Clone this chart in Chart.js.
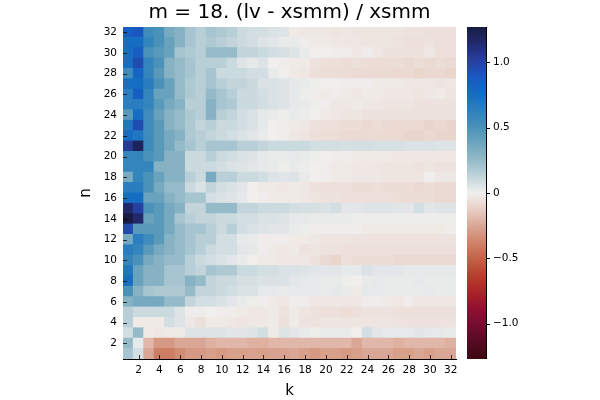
<!DOCTYPE html>
<html><head><meta charset="utf-8">
<script src="https://cdn.jsdelivr.net/npm/chart.js@4/dist/chart.umd.min.js"></script>
<style>html,body{margin:0;padding:0;background:#fff}#wrap{width:600px;height:400px}</style>
</head><body><div id="wrap"><canvas id="c" width="600" height="400"></canvas></div>
<script>
// ---- data ----
const kLabels = [1,2,3,4,5,6,7,8,9,10,11,12,13,14,15,16,17,18,19,20,21,22,23,24,25,26,27,28,29,30,31,32];
const nValues = [1,2,3,4,5,6,7,8,9,10,11,12,13,14,15,16,17,18,19,20,21,22,23,24,25,26,27,28,29,30,31,32];
const row01 = [0.2,0.08,-0.25,-0.4,-0.4,-0.35,-0.3,-0.3,-0.28,-0.3,-0.28,-0.28,-0.27,-0.28,-0.27,-0.27,-0.25,-0.28,-0.3,-0.28,-0.28,-0.3,-0.28,-0.25,-0.25,-0.25,-0.28,-0.28,-0.25,-0.28,-0.25,-0.25];
const row02 = [0.25,0.03,-0.2,-0.3,-0.3,-0.25,-0.25,-0.25,-0.22,-0.2,-0.2,-0.2,-0.22,-0.22,-0.2,-0.2,-0.2,-0.2,-0.2,-0.2,-0.2,-0.2,-0.25,-0.2,-0.2,-0.2,-0.22,-0.2,-0.2,-0.2,-0.2,-0.22];
const row03 = [0.08,0.25,-0.02,-0.03,-0.02,-0.02,0.05,0.05,0.05,0.05,0.04,0.04,0.05,0.08,-0.02,0.05,0.04,0.02,0.01,0.02,0.02,0.02,0.0,0.08,0.04,0.03,0.03,0.03,0.04,0.03,0.03,0.02];
const row04 = [0.15,-0.02,-0.02,-0.02,0.08,0.05,-0.03,-0.06,-0.02,-0.02,-0.03,-0.04,-0.03,-0.03,-0.02,-0.06,-0.02,-0.05,-0.05,-0.04,-0.04,-0.04,-0.04,-0.04,-0.04,-0.04,-0.05,-0.05,-0.05,-0.05,-0.05,-0.05];
const row05 = [0.15,0.1,0.1,0.1,0.1,0.05,-0.01,-0.01,0.0,-0.01,-0.01,-0.02,-0.03,-0.03,-0.02,-0.05,-0.02,-0.04,-0.05,-0.06,-0.06,-0.07,-0.06,-0.05,-0.05,-0.05,-0.06,-0.06,-0.06,-0.06,-0.06,-0.06];
const row06 = [0.3,0.35,0.35,0.35,0.25,0.25,0.12,0.08,0.08,0.06,0.04,0.02,0.01,-0.01,-0.02,-0.03,-0.01,-0.01,-0.03,-0.03,-0.03,-0.03,-0.03,-0.01,-0.01,-0.02,-0.03,-0.01,-0.03,-0.03,-0.03,-0.03];
const row07 = [0.5,0.3,0.2,0.18,0.18,0.18,0.25,0.12,0.12,0.1,0.08,0.06,0.06,0.03,0.03,0.02,0.03,0.03,0.03,0.02,0.03,0.02,-0.02,0.03,0.03,0.02,0.02,0.02,0.02,0.03,0.02,0.02];
const row08 = [0.75,0.4,0.3,0.3,0.2,0.2,0.3,0.25,0.12,0.1,0.1,0.07,0.07,0.06,0.06,0.06,0.04,0.03,0.03,0.02,0.02,0.01,0.0,0.02,0.03,0.02,0.02,0.02,0.03,0.02,0.02,0.02];
const row09 = [0.7,0.4,0.3,0.3,0.2,0.2,0.15,0.12,0.2,0.18,0.18,0.1,0.1,0.08,0.08,0.06,0.06,0.05,0.04,0.04,0.04,0.03,0.03,0.06,0.04,0.04,0.04,0.03,0.03,0.03,0.03,0.03];
const row10 = [0.6,0.5,0.35,0.3,0.25,0.25,0.15,0.1,0.08,0.06,0.04,0.02,0.0,-0.02,-0.02,-0.03,-0.03,-0.03,-0.05,-0.08,-0.1,-0.06,-0.07,-0.07,-0.07,-0.07,-0.08,-0.08,-0.08,-0.08,-0.08,-0.08];
const row11 = [0.65,0.6,0.45,0.35,0.3,0.25,0.2,0.15,0.1,0.08,0.08,0.04,0.03,-0.01,-0.02,-0.03,-0.02,-0.05,-0.04,-0.05,-0.05,-0.06,-0.06,-0.06,-0.06,-0.06,-0.06,-0.06,-0.06,-0.06,-0.06,-0.06];
const row12 = [0.35,0.65,0.55,0.45,0.3,0.25,0.2,0.15,0.15,0.08,0.08,0.03,0.02,-0.01,-0.01,-0.01,-0.02,-0.02,-0.03,-0.04,-0.04,-0.04,-0.05,-0.05,-0.05,-0.05,-0.05,-0.05,-0.05,-0.05,-0.05,-0.05];
const row13 = [0.95,0.45,0.45,0.45,0.35,0.25,0.2,0.2,0.15,0.1,0.15,0.08,0.06,0.05,0.04,0.04,0.02,0.01,-0.01,-0.01,-0.01,-0.01,-0.01,-0.02,-0.02,-0.02,-0.02,-0.02,-0.02,-0.02,-0.02,-0.01];
const row14 = [1.27,1.15,0.4,0.45,0.35,0.2,0.15,0.12,0.12,0.1,0.1,0.08,0.08,0.06,0.06,0.05,0.03,0.03,0.02,0.02,0.02,0.02,0.01,0.01,0.01,0.01,0.01,0.01,0.01,0.01,0.01,0.01];
const row15 = [1.15,1.0,0.5,0.45,0.35,0.3,0.12,0.12,0.25,0.25,0.25,0.12,0.12,0.1,0.1,0.1,0.08,0.07,0.07,0.06,0.08,0.04,0.04,0.05,0.05,0.05,0.04,0.04,0.08,0.04,0.05,0.05];
const row16 = [0.75,0.75,0.4,0.4,0.3,0.25,0.2,0.2,0.08,0.06,0.05,0.03,0.0,-0.01,-0.02,-0.02,-0.02,-0.03,-0.04,-0.05,-0.05,-0.06,-0.06,-0.06,-0.06,-0.06,-0.07,-0.07,-0.07,-0.07,-0.08,-0.08];
const row17 = [0.65,0.65,0.5,0.35,0.25,0.25,0.1,0.06,0.12,0.08,0.06,0.04,0.0,-0.02,-0.02,-0.03,-0.02,-0.03,-0.05,-0.06,-0.06,-0.06,-0.07,-0.07,-0.06,-0.07,-0.07,-0.07,-0.08,-0.07,-0.08,-0.08];
const row18 = [0.35,0.6,0.5,0.4,0.3,0.3,0.15,0.1,0.35,0.15,0.15,0.1,0.1,0.08,0.05,0.04,0.05,0.02,0.0,-0.01,-0.02,-0.02,-0.03,-0.03,-0.03,-0.04,-0.04,-0.04,-0.04,0.0,-0.03,-0.03];
const row19 = [0.6,0.6,0.6,0.3,0.3,0.3,0.1,0.1,0.1,0.08,0.06,0.05,0.04,0.03,0.02,0.01,0.02,0.01,0.0,-0.01,-0.02,-0.02,-0.03,-0.03,-0.03,-0.04,-0.04,-0.04,-0.05,-0.04,-0.05,-0.05];
const row20 = [0.6,0.6,0.5,0.45,0.3,0.3,0.1,0.1,0.15,0.1,0.08,0.06,0.05,0.03,0.02,0.02,0.03,0.02,0.01,0.0,-0.01,-0.01,-0.02,-0.02,-0.02,-0.02,-0.03,-0.03,-0.03,-0.03,-0.03,-0.03];
const row21 = [1.05,1.2,0.55,0.45,0.35,0.25,0.2,0.15,0.2,0.2,0.2,0.15,0.15,0.12,0.1,0.1,0.1,0.1,0.08,0.08,0.08,0.07,0.08,0.08,0.07,0.07,0.07,0.06,0.06,0.06,0.05,0.05];
const row22 = [0.75,0.7,0.55,0.45,0.35,0.3,0.18,0.15,0.12,0.1,0.08,0.06,0.04,0.02,0.0,-0.01,-0.03,-0.04,-0.06,-0.07,-0.07,-0.08,-0.08,-0.08,-0.08,-0.09,-0.09,-0.1,-0.1,-0.09,-0.1,-0.1];
const row23 = [0.7,0.95,0.55,0.45,0.3,0.25,0.18,0.12,0.15,0.1,0.1,0.08,0.06,0.03,0.0,-0.01,-0.02,-0.03,-0.05,-0.06,-0.06,-0.07,-0.07,-0.08,-0.07,-0.08,-0.09,-0.08,-0.09,-0.1,-0.09,-0.1];
const row24 = [0.45,0.75,0.55,0.4,0.3,0.25,0.18,0.15,0.3,0.15,0.12,0.08,0.06,0.03,0.02,0.01,0.02,0.01,0.0,-0.02,-0.03,-0.04,-0.04,-0.05,-0.05,-0.05,-0.05,-0.05,-0.05,-0.05,-0.05,-0.05];
const row25 = [0.65,0.65,0.6,0.45,0.35,0.3,0.15,0.15,0.3,0.2,0.18,0.1,0.1,0.08,0.06,0.05,0.03,0.02,0.01,-0.01,-0.03,-0.03,-0.02,-0.03,-0.03,-0.04,-0.04,-0.04,-0.05,-0.05,-0.05,-0.05];
const row26 = [0.65,0.85,0.6,0.4,0.4,0.25,0.18,0.15,0.25,0.2,0.15,0.1,0.1,0.08,0.06,0.05,0.03,0.01,-0.01,-0.02,-0.01,-0.02,-0.03,-0.02,-0.02,-0.03,-0.03,-0.03,-0.04,-0.03,-0.02,-0.04];
const row27 = [0.75,0.75,0.65,0.5,0.4,0.25,0.18,0.15,0.2,0.15,0.12,0.12,0.1,0.06,0.06,0.05,0.03,0.02,0.01,0.0,0.0,-0.01,-0.01,-0.01,-0.02,-0.02,-0.02,-0.03,-0.03,-0.03,-0.04,-0.03];
const row28 = [0.55,0.8,0.6,0.45,0.3,0.25,0.2,0.15,0.2,0.1,0.1,0.1,0.08,0.08,0.02,0.0,-0.02,-0.03,-0.06,-0.07,-0.07,-0.07,-0.08,-0.08,-0.08,-0.08,-0.09,-0.08,-0.1,-0.09,-0.09,-0.1];
const row29 = [0.75,0.95,0.6,0.5,0.3,0.25,0.2,0.15,0.15,0.15,0.1,0.05,0.03,0.05,0.0,-0.01,-0.02,-0.02,-0.05,-0.06,-0.06,-0.07,-0.06,-0.07,-0.07,-0.07,-0.07,-0.08,-0.07,-0.08,-0.07,-0.08];
const row30 = [0.75,0.85,0.5,0.45,0.4,0.2,0.18,0.15,0.25,0.25,0.25,0.12,0.12,0.1,0.08,0.07,0.05,0.02,0.0,0.0,-0.01,-0.01,-0.03,-0.01,-0.03,-0.05,-0.05,-0.05,-0.05,-0.03,-0.06,-0.06];
const row31 = [0.75,0.75,0.6,0.5,0.4,0.3,0.2,0.15,0.18,0.15,0.12,0.1,0.08,0.05,0.04,0.02,0.02,-0.01,-0.02,-0.02,-0.03,-0.03,-0.03,-0.04,-0.04,-0.04,-0.05,-0.06,-0.06,-0.05,-0.06,-0.06];
const row32 = [0.85,0.9,0.55,0.5,0.35,0.3,0.2,0.15,0.2,0.18,0.15,0.1,0.08,0.08,0.06,0.05,-0.02,-0.03,-0.03,-0.03,-0.04,-0.03,-0.04,-0.04,-0.04,-0.04,-0.04,-0.05,-0.05,-0.06,-0.06,-0.06];
const values = [row01,row02,row03,row04,row05,row06,row07,row08,row09,row10,row11,row12,row13,row14,row15,row16,
                row17,row18,row19,row20,row21,row22,row23,row24,row25,row26,row27,row28,row29,row30,row31,row32];
const yTicks = [2,4,6,8,10,12,14,16,18,20,22,24,26,28,30,32];
const cbTicks = [-1,-0.5,0,0.5,1];
const cbTickLabels = ['\u22121.0','\u22120.5','0','0.5','1.0'];
const cLim = 1.27;
const titleText = 'm = 18. (lv - xsmm) / xsmm';

// reversed "balance" colormap stops (t from 0 = navy to 1 = dark red)
const cmapStops = [
  [0.00,[24,28,67]],[0.05,[33,42,110]],[0.10,[40,62,160]],[0.15,[25,88,195]],[0.20,[20,108,196]],
  [0.25,[45,128,190]],[0.30,[72,145,185]],[0.35,[110,165,190]],[0.40,[148,186,200]],[0.45,[192,212,218]],
  [0.50,[241,239,238]],[0.55,[232,206,196]],[0.60,[218,166,148]],[0.65,[207,130,105]],[0.70,[196,96,70]],
  [0.75,[184,62,45]],[0.80,[170,35,40]],[0.85,[145,15,50]],[0.90,[115,12,48]],[0.95,[85,10,35]],[1.00,[60,9,18]]
];
function colorFor(v){
  let t = 1 - (v + cLim) / (2*cLim);
  t = Math.max(0, Math.min(1, t));
  for (let i=1;i<cmapStops.length;i++){
    const [t1,c1] = cmapStops[i];
    if (t <= t1){
      const [t0,c0] = cmapStops[i-1];
      const f = (t - t0)/(t1 - t0);
      const c = c0.map((x,j)=>Math.round(x + f*(c1[j]-x)));
      return `rgb(${c[0]},${c[1]},${c[2]})`;
    }
  }
  const c = cmapStops[cmapStops.length-1][1];
  return `rgb(${c[0]},${c[1]},${c[2]})`;
}

const datasets = nValues.map((n, ri) => ({
  label: 'n=' + n,
  data: kLabels.map(() => [n - 0.5, n + 0.5]),
  backgroundColor: kLabels.map((k, ci) => colorFor(values[ri][ci])),
  borderWidth: 0,
  barPercentage: 1,
  categoryPercentage: 1,
  grouped: false,
  inflateAmount: 0.5,
  yAxisID: 'y'
}));

const FONT = 'DejaVu Sans';

const extrasPlugin = {
  id: 'extras',
  afterDraw(chart){
    const ctx = chart.ctx;
    const ca = chart.chartArea;
    const cb = chart.scales.cb;
    const xs = chart.scales.x, ys = chart.scales.y;
    // colorbar
    const x0 = ca.right + 11, w = 19;
    const grad = ctx.createLinearGradient(0, cb.top, 0, cb.bottom);
    const N = 60;
    for (let i=0;i<=N;i++){
      const v = -cLim + i*(2*cLim/N);
      const p = (cb.getPixelForValue(v) - cb.top)/(cb.bottom - cb.top);
      grad.addColorStop(Math.max(0,Math.min(1,p)), colorFor(v));
    }
    ctx.save();
    ctx.fillStyle = grad;
    ctx.fillRect(x0, cb.top, w, cb.bottom - cb.top);
    ctx.strokeStyle = '#000';
    ctx.lineWidth = 1;
    ctx.beginPath();
    ctx.moveTo(x0 + w + 0.5, cb.top); ctx.lineTo(x0 + w + 0.5, cb.bottom);
    cbTicks.forEach(v => {
      const y = Math.round(cb.getPixelForValue(v)) + 0.5;
      ctx.moveTo(x0 + w, y); ctx.lineTo(x0 + w + 4, y);
    });
    ctx.stroke();
    // inward tick marks on main axes
    ctx.strokeStyle = 'rgba(0,0,0,0.75)';
    ctx.beginPath();
    xs.ticks.forEach((t, i) => {
      if (kLabels[i] % 2 !== 0) return;
      const x = Math.round(xs.getPixelForTick(i)) + 0.5;
      ctx.moveTo(x, ca.bottom); ctx.lineTo(x, ca.bottom - 4);
    });
    yTicks.forEach(v => {
      const y = Math.round(ys.getPixelForValue(v)) + 0.5;
      ctx.moveTo(ca.left, y); ctx.lineTo(ca.left + 4, y);
    });
    ctx.stroke();
    ctx.restore();
  }
};

new Chart(document.getElementById('c'), {
  type: 'bar',
  data: { labels: kLabels, datasets },
  options: {
    responsive: false,
    animation: false,
    devicePixelRatio: 1,
    layout: { padding: { left: 77, right: 64, top: 0, bottom: 0 } },
    plugins: {
      legend: { display: false },
      tooltip: { enabled: false },
      title: {
        display: true, text: titleText, fullSize: false, color: '#000',
        font: { family: FONT, size: 20, weight: 'normal', lineHeight: 1.2 },
        padding: { top: 1, bottom: 2 }
      }
    },
    scales: {
      x: {
        type: 'category', offset: true,
        grid: { display: false, drawTicks: false },
        border: { display: true, color: '#000', width: 1 },
        ticks: {
          autoSkip: false, maxRotation: 0, minRotation: 0, padding: 5, color: '#000',
          font: { family: FONT, size: 10.5 },
          callback: (val, idx) => (kLabels[idx] % 2 === 0 ? String(kLabels[idx]) : '')
        },
        title: { display: true, text: 'k', color: '#000', font: { family: FONT, size: 15 }, padding: 0 },
        afterFit: s => { s.height = 41; s.paddingLeft = 0; s.paddingRight = 0; }
      },
      y: {
        type: 'linear', position: 'left', min: 0.5, max: 32.5,
        grid: { display: false, drawTicks: false },
        border: { display: true, color: '#000', width: 1 },
        afterBuildTicks: s => { s.ticks = yTicks.map(v => ({ value: v })); },
        ticks: { color: '#000', padding: 6, font: { family: FONT, size: 10.5 }, callback: v => String(v) },
        title: { display: true, text: 'n', color: '#000', font: { family: FONT, size: 15 }, padding: 0 },
        afterFit: s => { s.width = 46; s.paddingTop = 0; s.paddingBottom = 0; }
      },
      cb: {
        type: 'linear', position: 'right', min: -cLim, max: cLim,
        grid: { display: false, drawTicks: false },
        border: { display: false },
        afterBuildTicks: s => { s.ticks = cbTicks.map(v => ({ value: v })); },
        ticks: {
          color: '#000', padding: 37, font: { family: FONT, size: 10.5 },
          callback: (v) => { const i = cbTicks.indexOf(v); return i >= 0 ? cbTickLabels[i] : ''; }
        },
        afterFit: s => { s.width = 80; s.paddingTop = 0; s.paddingBottom = 0; }
      }
    }
  },
  plugins: [extrasPlugin]
});
</script>
</body></html>
